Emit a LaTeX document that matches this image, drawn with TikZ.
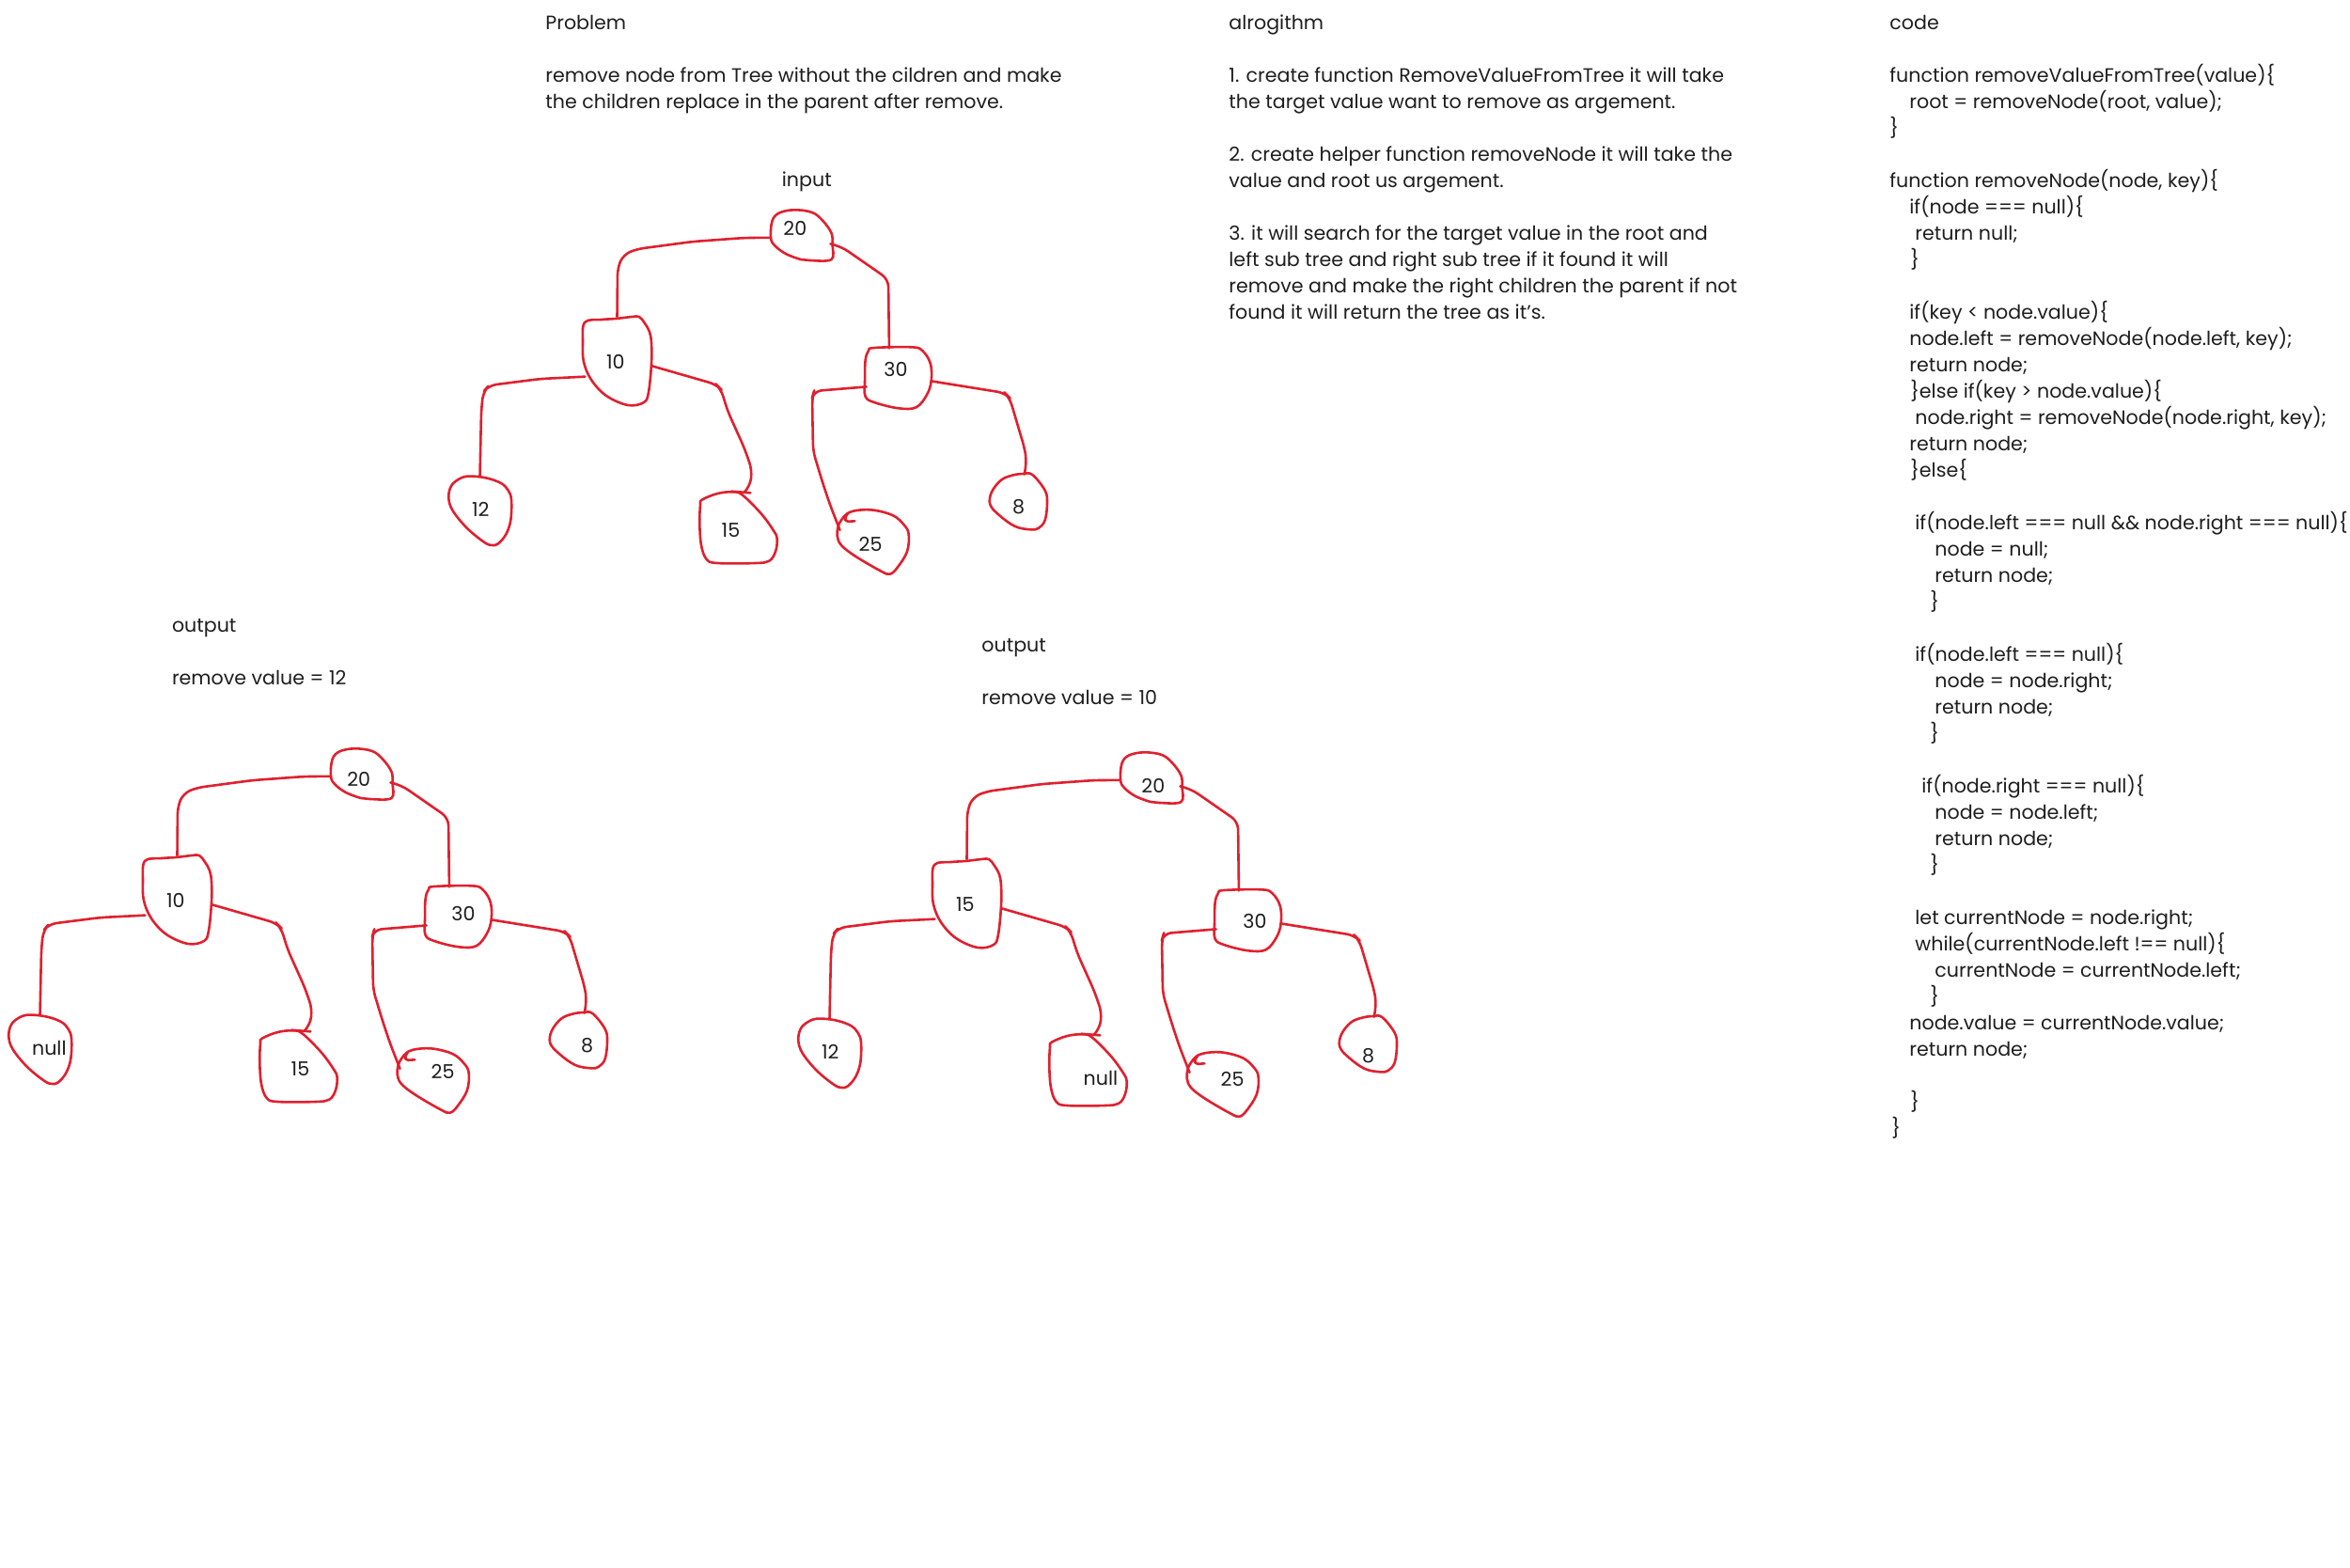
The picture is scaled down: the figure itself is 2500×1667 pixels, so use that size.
\documentclass[tikz,border=0pt]{standalone}
\usepackage{fontspec}
\setmainfont{Poppins}
\usetikzlibrary{shapes.geometric}
\definecolor{ink}{HTML}{1E1E1E}
\definecolor{pen}{HTML}{E0202E}
% indentation, one text line, and a block of lines on a fixed 14pt grid
\newcommand\ind[1]{\hspace*{#1pt}}
\newcommand\txtline[1]{\hbox{#1}}
\newcommand\txtblock[1]{\vtop{\baselineskip=14pt\lineskiplimit=-\maxdimen\lineskip=0pt #1}}

\tikzset{
  every node/.style={font=\fontsize{10.3}{14}\selectfont, text=ink},
  txt/.style={anchor=base west, inner sep=0pt},
  lbl/.style={anchor=base west, inner sep=0pt},
  hull/.style={ellipse, draw=none, inner sep=0pt, outer sep=0pt},
  blob/.style={draw=pen, line width=1.3pt, line cap=round, line join=round},
  wire/.style={draw=pen, line width=1.3pt, line cap=round, line join=round, rounded corners=4pt},
  nudge r/.style={}, nudge a/.style={}, nudge b/.style={}, nudge c/.style={},
  nudge d/.style={}, nudge e/.style={}, nudge f/.style={},
}

% One binary tree: #1 name prefix, #2 shift, #3..#9 keys (root, L, R, LL, LR, RL, RR)
\newcommand\bsttree[9]{%
  \begin{scope}[shift={#2}, name prefix=#1-]
    % hulls of the hand-drawn rings
    \node[hull, minimum width=32.75pt, minimum height=27pt]    (r) at (852.75,250) {};
    \node[hull, minimum width=36.5pt,  minimum height=47pt]    (a) at (656.5,384) {};
    \node[hull, minimum width=35.5pt,  minimum height=32.5pt]  (b) at (955.5,401.7) {};
    \node[hull, minimum width=33.5pt,  minimum height=36.65pt] (c) at (510.5,543.3) {};
    \node[hull, minimum width=41.5pt,  minimum height=38.15pt] (d) at (785.5,560.9) {};
    \node[hull, minimum width=38pt,    minimum height=34pt]    (e) at (928.7,576.7) {};
    \node[hull, minimum width=30.35pt, minimum height=29.65pt] (f) at (1083.7,533.7) {};
    % rings
    \draw[blob] plot[smooth cycle, tension=0.6] coordinates {(820,253) (821.5,235) (829,226.5) (845,223.3) (864,226) (875.5,235) (884.5,248) (885.5,260) (884.5,276) (861.5,277) (852,276) (836,270) (824.5,261.5)};
    \draw[blob] plot[smooth cycle, tension=0.6] coordinates {(622,343) (640,340) (655,339) (672,337) (680,337) (686,344) (691,353) (693,365) (693,387) (690,417) (685,428) (668,431) (645,421) (629,404) (621,385) (620,365)};
    \draw[blob] plot[smooth cycle, tension=0.6] coordinates {(924,373) (930,370) (970,369.3) (981.5,373.3) (989.8,386.7) (990.7,405) (986,420) (974.6,433.3) (956,434.3) (931,428.3) (920.6,421.7) (920.1,403.3) (920.6,383.3)};
    \draw[blob] plot[smooth cycle, tension=0.6] coordinates {(485,511.7) (496.7,506.7) (516.7,508.3) (533,514) (540.7,521.7) (544,531.7) (543.3,553.3) (538.3,568.3) (530,578.3) (523.3,580) (515,576.7) (496.7,561.7) (481.7,543.3) (477.3,530) (479.3,518.3)};
    \draw[blob] plot[smooth cycle, tension=0.6] coordinates {(746.7,531.7) (763.3,525) (780,523.3) (790,526.7) (810,546.7) (823.3,565) (826.7,573.3) (825,586.7) (818.3,596.7) (803.3,599) (763.3,599) (751.7,595) (746,580) (744.3,556.7) (745,536.7)};
    \draw[blob] (778.3,522.7) -- (798.3,524.3);
    \draw[blob] plot[smooth cycle, tension=0.6] coordinates {(901.7,546) (913.3,542.7) (930,542.7) (950,548.3) (961.7,558.3) (966.7,568.3) (965,586.7) (955,603.3) (946.7,610.7) (936.7,607.3) (910,591.7) (895,580) (890.7,570) (891.7,560) (895,553.3)};
    \draw[blob, rounded corners=2pt] (909.3,554.3) -- (898.5,555) -- (899.5,549) -- (902,546);
    \draw[blob] plot[smooth cycle, tension=0.6] coordinates {(1076.7,505.7) (1088.3,504) (1098.3,505) (1111.7,521.7) (1114,535) (1111.7,553.3) (1105,561.7) (1096.7,563.3) (1080,560) (1063.3,548.3) (1053.3,536.7) (1055,523.3) (1065,510.7)};
    % links
    \draw[wire] (r.185) -- (792,253) -- (737,257) -- (677,265) -- (663,271) -- (657,285) -- (a.north);
    \draw[wire] (r.343) -- (896,263) -- (945,297) -- (b.107);
    \draw[wire] (a.206) -- (575,403) -- (520,410) -- (514,417) -- (512,437) -- (c.north);
    \draw[wire] (a.352) -- (762,409) -- (767,414) -- (774,437) -- (792,477) -- (800,500) -- (798,517) -- (d.80);
    \draw[wire] (b.196) -- (866,416) -- (864,423) -- (865,480) -- (875,513) -- (883,537) -- (e.160);
    \draw[wire] (b.354) -- (1069,418) -- (1074,423) -- (1090,477) -- (1092,490) -- (f.78);
    % keys
    \node[lbl, nudge r] (r-t) at (833,250) {#3};
    \node[lbl, nudge a] (a-t) at (644.6,392.7) {#4};
    \node[lbl, nudge b] (b-t) at (940,400) {#5};
    \node[lbl, nudge c] (c-t) at (501.7,549.3) {#6};
    \node[lbl, nudge d] (d-t) at (767.3,571.7) {#7};
    \node[lbl, nudge e] (e-t) at (913.3,586.7) {#8};
    \node[lbl, nudge f] (f-t) at (1076.7,546.5) {#9};
  \end{scope}%
}

\begin{document}
\begin{tikzpicture}[x=0.5pt, y=-0.5pt]
  \fill[white] (0,0) rectangle (2500,1667);
  \useasboundingbox (0,0) rectangle (2500,1667);

  % problem statement
  \node[txt] (problem) at (580,31) {\txtblock{%
    \txtline{Problem}\txtline{}%
    \txtline{remove node from Tree without the cildren and make}%
    \txtline{the children replace in the parent after remove.}}};

  % algorithm
  \node[txt] (algo) at (1307,31) {\txtblock{%
    \txtline{alrogithm}\txtline{}%
    \txtline{1. create function RemoveValueFromTree it will take}%
    \txtline{the target value want to remove as argement.}\txtline{}%
    \txtline{2. create helper function removeNode it will take the}%
    \txtline{value and root us argement.}\txtline{}%
    \txtline{3. it will search for the target value in the root and}%
    \txtline{left sub tree and right sub tree if it found it will}%
    \txtline{remove and make the right children the parent if not}%
    \txtline{found it will return the tree as it's.}}};

  % code listing
  \node[txt] (code) at (2010,31) {\txtblock{%
    \txtline{code}\txtline{}%
    \txtline{function removeValueFromTree(value)\{}%
    \txtline{\ind{10.5}root = removeNode(root, value);}%
    \txtline{\}}\txtline{}%
    \txtline{function removeNode(node, key)\{}%
    \txtline{\ind{10.5}if(node === null)\{}%
    \txtline{\ind{13.5}return null;}%
    \txtline{\ind{11}\}}\txtline{}%
    \txtline{\ind{10.5}if(key < node.value)\{}%
    \txtline{\ind{10.5}node.left = removeNode(node.left, key);}%
    \txtline{\ind{10.5}return node;}%
    \txtline{\ind{11}\}else if(key > node.value)\{}%
    \txtline{\ind{13.5}node.right = removeNode(node.right, key);}%
    \txtline{\ind{10.5}return node;}%
    \txtline{\ind{11}\}else\{}\txtline{}%
    \txtline{\ind{13.5}if(node.left === null \&\& node.right === null)\{}%
    \txtline{\ind{24}node = null;}%
    \txtline{\ind{24}return node;}%
    \txtline{\ind{21.5}\}}\txtline{}%
    \txtline{\ind{13.5}if(node.left === null)\{}%
    \txtline{\ind{24}node = node.right;}%
    \txtline{\ind{24}return node;}%
    \txtline{\ind{21.5}\}}\txtline{}%
    \txtline{\ind{17}if(node.right === null)\{}%
    \txtline{\ind{24}node = node.left;}%
    \txtline{\ind{24}return node;}%
    \txtline{\ind{21.5}\}}\txtline{}%
    \txtline{\ind{13.5}let currentNode = node.right;}%
    \txtline{\ind{13.5}while(currentNode.left !== null)\{}%
    \txtline{\ind{24}currentNode = currentNode.left;}%
    \txtline{\ind{21.5}\}}%
    \txtline{\ind{10.5}node.value = currentNode.value;}%
    \txtline{\ind{10.5}return node;}\txtline{}%
    \txtline{\ind{11}\}}%
    \txtline{\ind{1}\}}}};

  % input tree
  \node[txt] (input) at (831.5,198) {input};
  \bsttree{in}{(0,0)}{20}{10}{30}{12}{15}{25}{8}

  % after removing 12
  \node[txt] (outA-cap) at (182.6,672) {\txtblock{\txtline{output}\txtline{}\txtline{remove value = 12}}};
  \begin{scope}[nudge r/.style={xshift=2pt, yshift=-6.5pt}, nudge b/.style={xshift=4pt, yshift=-3pt},
                nudge e/.style={xshift=6.5pt, yshift=6pt}, nudge d/.style={xshift=5pt},
                nudge f/.style={xshift=4.5pt}]
    \bsttree{outA}{(-468,573)}{20}{10}{30}{null}{15}{25}{8}
  \end{scope}

  % after removing 10
  \node[txt] (outB-cap) at (1044,693) {\txtblock{\txtline{output}\txtline{}\txtline{remove value = 10}}};
  \begin{scope}[nudge r/.style={xshift=4.5pt, yshift=-8pt}, nudge b/.style={xshift=5pt, yshift=-5pt},
                nudge e/.style={xshift=6.5pt, yshift=4pt}, nudge d/.style={xshift=6.5pt, yshift=-3pt},
                nudge f/.style={yshift=-3.5pt}]
    \bsttree{outB}{(372,577)}{20}{15}{30}{12}{null}{25}{8}
  \end{scope}
\end{tikzpicture}
\end{document}
